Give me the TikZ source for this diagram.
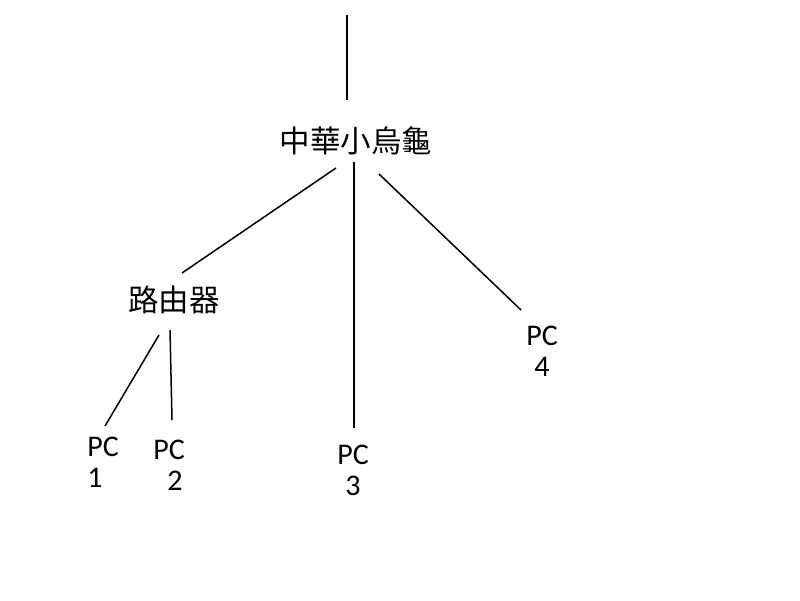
\documentclass[tikz,border=0pt]{standalone}
\usepackage{fontspec}
\setmainfont{Carlito}
\newfontfamily\cjk{Noto Sans CJK TC}
\begin{document}
\begin{tikzpicture}[x=1pt,y=-1pt,
  lbl/.style={inner sep=0pt,font=\fontsize{30}{31}\selectfont,align=center},
  cjklbl/.style={inner sep=0pt,font=\cjk\fontsize{30.5}{32}\selectfont},
  link/.style={line width=1.5pt,black}]
\useasboundingbox (0,0) rectangle (800,600);
\node[cjklbl] (turtle) at (356,141) {中華小烏龜};
\node[cjklbl] (router) at (174,300) {路由器};
\node[lbl,align=left] (pc1) at (103,462) {PC\\1};
\node[lbl] (pc2) at (169,465) {PC\\\hspace*{12pt}2};
\node[lbl] (pc3) at (353,470) {PC\\3};
\node[lbl] (pc4) at (542,351) {PC\\4};
\coordinate (top) at (347,15);
\coordinate (turtleTop) at (347,100);
\coordinate (tL) at (336,168);
\coordinate (tM) at (354,162);
\coordinate (tR) at (379,174);
\coordinate (rIn) at (182,273);
\coordinate (pc3In) at (354,428);
\coordinate (pc4In) at (521,310);
\coordinate (rL) at (159,335);
\coordinate (rR) at (170,330);
\coordinate (pc1In) at (105,426);
\coordinate (pc2In) at (172,420);
\draw[link] (top) -- (turtleTop);
\draw[link] (tL) -- (rIn);
\draw[link] (tM) -- (pc3In);
\draw[link] (tR) -- (pc4In);
\draw[link] (rL) -- (pc1In);
\draw[link] (rR) -- (pc2In);
\end{tikzpicture}
\end{document}
